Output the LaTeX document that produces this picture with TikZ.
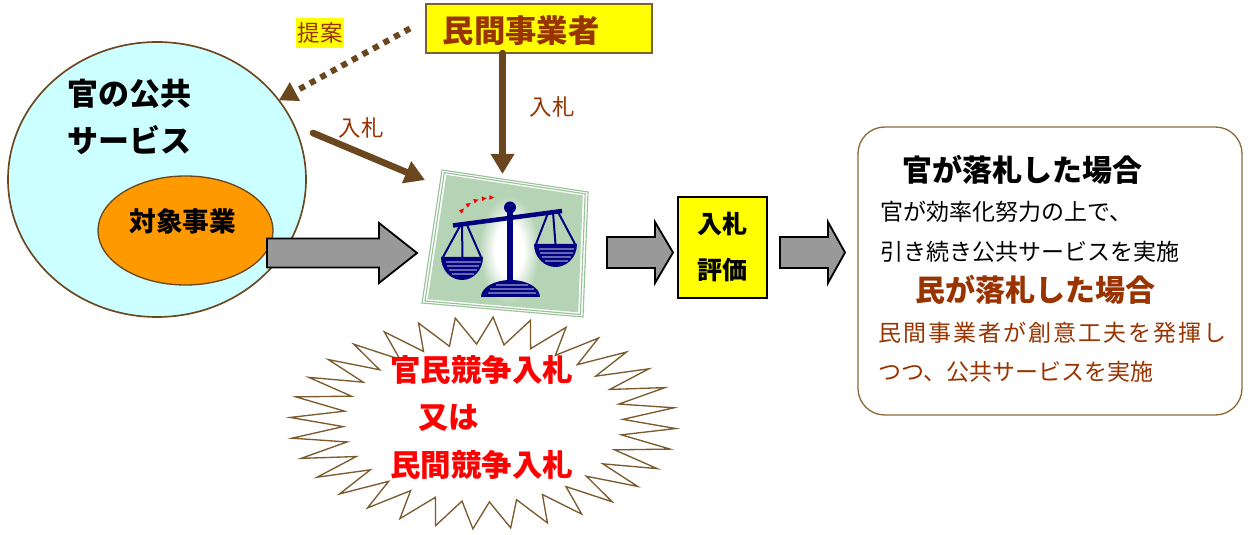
\documentclass[tikz,border=0pt]{standalone}
\usepackage{fontspec}
\setmainfont{Noto Sans CJK JP}
\usetikzlibrary{arrows.meta,calc,shapes.geometric}

\definecolor{arrowbrown}{HTML}{6B4720}
\definecolor{textbrown}{HTML}{993300}
\definecolor{circleline}{HTML}{6B4720}
\definecolor{cyanfill}{HTML}{CCFFFF}
\definecolor{orangefill}{HTML}{FF9900}
\definecolor{arrowgray}{HTML}{999999}
\definecolor{boxyellow}{HTML}{FFFF00}
\definecolor{boxline}{HTML}{806030}
\definecolor{resultline}{HTML}{8B6A3A}
\definecolor{starline}{HTML}{7B5A2E}
\definecolor{alertred}{HTML}{FF0000}
\definecolor{scalenavy}{HTML}{000080}
\definecolor{framefill}{HTML}{B5D4B5}
\definecolor{frameline}{HTML}{9CC49C}
\definecolor{stripe}{HTML}{6666B0}

% soft white glow behind the balance
\pgfdeclareradialshading{scaleglow}{\pgfpoint{0bp}{0bp}}{%
  color(0bp)=(white); color(12bp)=(white); color(25bp)=(framefill); color(50bp)=(framefill)}

\newcommand\fsz[1]{\fontsize{#1}{#1}\selectfont}
% block arrow: start x, head base x, tip x, centre y, half body, half head
\newcommand\blockarrow[6]{%
  \draw[grayblock] (#1,#4-#5) -- (#2,#4-#5) -- (#2,#4-#6) -- (#3,#4)
    -- (#2,#4+#6) -- (#2,#4+#5) -- (#1,#4+#5) -- cycle;}

\begin{document}
\begin{tikzpicture}[x=0.6pt,y=-0.6pt,
  txt/.style={inner sep=0pt, outer sep=0pt},
  bidarrow/.style={draw=arrowbrown, line width=4pt, line cap=round,
    -{Triangle[length=12pt,width=13.5pt]}},
  proparrow/.style={draw=arrowbrown, line width=3.6pt,
    dash pattern=on 3.6pt off 3.6pt, -{Triangle[length=11pt,width=12pt]}},
  grayblock/.style={fill=arrowgray, draw=black, line width=1.1pt, line join=miter},
  navyline/.style={draw=scalenavy, line width=1.2pt},
  stripeline/.style={draw=stripe, line width=0.7pt},
  ]
\useasboundingbox (0,0) rectangle (1250,535);

% ---- public service circle and target project
\node[ellipse, draw=circleline, line width=1pt, fill=cyanfill,
  minimum width=178.8pt, minimum height=165pt, inner sep=0pt, outer sep=0pt]
  (service) at (157,179.5) {};
\node[txt, anchor=west, font=\bfseries\fsz{18.6}] (svc1) at (68,94) {官の公共};
\node[txt, anchor=west, font=\bfseries\fsz{18.6}] (svc2) at (68,140) {サービス};
\node[ellipse, draw=circleline, line width=0.8pt, fill=orangefill,
  minimum width=105pt, minimum height=65.4pt, inner sep=0pt, outer sep=0pt]
  (target) at (185.5,230.5) {};
\node[txt, font=\bfseries\fsz{16}] (targettext) at (183,221) {対象事業};

% ---- starburst
\draw[starline, line width=0.8pt, fill=white]
  plot[samples at={0,...,63}, variable=\i]
  ({483+(mod(\i,2)==0 ? 193 : 140)*cos(\i*5.625+3)},
   {423+(mod(\i,2)==0 ? 106 : 79)*sin(\i*5.625+3)}) -- cycle;
\node[txt, anchor=west, text=alertred, font=\bfseries\fsz{18.3}] (kanmin) at (390,369.5) {官民競争入札};
\node[txt, anchor=west, text=alertred, font=\bfseries\fsz{18.3}] (mataha) at (418,418) {又は};
\node[txt, anchor=west, text=alertred, font=\bfseries\fsz{18.3}] (minmin) at (390,465) {民間競争入札};

% ---- balance picture
\coordinate (fc) at (508.5,245.5);
\coordinate (f1) at (442,170);
\coordinate (f2) at (588,192);
\coordinate (f3) at (583,317);
\coordinate (f4) at (422,303);
\filldraw[fill=white, draw=frameline, line width=0.7pt] (f1) -- (f2) -- (f3) -- (f4) -- cycle;
\draw[frameline, line width=0.7pt] ($(fc)!0.965!(f1)$) -- ($(fc)!0.965!(f2)$)
  -- ($(fc)!0.965!(f3)$) -- ($(fc)!0.965!(f4)$) -- cycle;
\fill[framefill] ($(fc)!0.935!(f1)$) -- ($(fc)!0.935!(f2)$)
  -- ($(fc)!0.935!(f3)$) -- ($(fc)!0.935!(f4)$) -- cycle;
\shade[shading=scaleglow] (509,250) ellipse [x radius=30, y radius=54];
% post, knob and beam
\draw[scalenavy, line width=3.6pt] (510,207) -- (510,286);
\fill[scalenavy] (510,207.5) circle [radius=6];
\draw[scalenavy, line width=2.7pt] (453,225.5) -- (562,211);
% left pan
\draw[navyline] (443,257) -- (460,226);
\draw[navyline] (462.5,257) -- (462,225.5);
\draw[navyline] (481,257) -- (467,225);
\fill[scalenavy] (441,257) arc [start angle=180, end angle=0, x radius=21, y radius=23] -- cycle;
\foreach \d in {5,9,13,17} {
  \draw[stripeline] ({462-21*sqrt(1-(\d/23)^2)+4},257+\d) -- ({462+21*sqrt(1-(\d/23)^2)-2},257+\d);
}
% right pan
\draw[navyline] (536,244) -- (548,213);
\draw[navyline] (555.5,244) -- (553,212.5);
\draw[navyline] (575,244) -- (558,212);
\fill[scalenavy] (534,244) arc [start angle=180, end angle=0, x radius=21.5, y radius=23] -- cycle;
\foreach \d in {5,9,13,17} {
  \draw[stripeline] ({555.5-21.5*sqrt(1-(\d/23)^2)+4},244+\d) -- ({555.5+21.5*sqrt(1-(\d/23)^2)-2},244+\d);
}
% foot
\fill[scalenavy] (481,297) arc [start angle=180, end angle=360, x radius=29.5, y radius=17] -- cycle;
\foreach \d in {4,8,12} {
  \draw[stripeline] ({510.5-29.5*sqrt(1-(\d/17)^2)+6},297-\d) -- ({510.5+29.5*sqrt(1-(\d/17)^2)-3},297-\d);
}
% red motion marks
\foreach \x/\y/\a in {462/210.5/45, 468.5/204.5/32, 476/200.5/18, 484/198.5/8, 491.5/197.5/0} {
  \fill[red, shift={(\x,\y)}, rotate=\a] (2.8,0) -- (-2.2,2.3) -- (-2.2,-2.3) -- cycle;
}

% ---- private operator box and bid arrows
\node[draw=boxline, line width=0.9pt, fill=boxyellow, minimum width=135.6pt,
  minimum height=29.4pt, inner sep=0pt, outer sep=0pt] (minbox) at (539,28.5) {};
\node[txt, text=textbrown, font=\bfseries\fsz{18.8}] (minkan) at (521,31) {民間事業者};
\node[txt, fill=boxyellow, text=textbrown, font=\fsz{13.5}, minimum width=28.8pt,
  minimum height=18pt] (teian) at (320,33) {提案};

\coordinate (bidtop) at (502.5,174);
\draw[bidarrow] (minbox.south -| bidtop) -- (bidtop);
\coordinate (bidstart) at (313,133);
\coordinate (bidtip) at (425,180);
\draw[bidarrow] (bidstart) -- (bidtip);
\draw[proparrow] ([xshift=-9.6pt]minbox.west) -- (service.33);
\node[txt, text=textbrown, font=\fsz{13.5}] (bid1) at (552,107) {入札};
\node[txt, text=textbrown, font=\fsz{13.5}] (bid2) at (361,128) {入札};

% ---- flow arrows and evaluation
\blockarrow{267}{379}{417}{253}{14.5}{30}
\blockarrow{607}{655}{673}{252.5}{15.5}{30.5}
\blockarrow{780}{828}{845}{252.5}{15.5}{30.5}
\node[draw=black, line width=0.8pt, fill=boxyellow, minimum width=53.4pt,
  minimum height=60.6pt, inner sep=0pt, align=center,
  font=\bfseries\fsz{15}, execute at begin node={\setlength{\baselineskip}{27.6pt}}]
  (hyoka) at (722.5,247.5) {入札\\評価};

% ---- outcome box
\node[draw=resultline, line width=0.8pt, fill=white, rounded corners=16pt,
  minimum width=230.4pt, minimum height=172.8pt, inner sep=0pt] (result) at (1050,271) {};
\node[txt, anchor=west, font=\bfseries\fsz{18}] (kanwin) at (902,170) {官が落札した場合};
\node[txt, anchor=west, font=\fsz{13.8}] (kanwin1) at (880,212) {官が効率化努力の上で、};
\node[txt, anchor=west, font=\fsz{13.8}] (kanwin2) at (880,252) {引き続き公共サービスを実施};
\node[txt, anchor=west, text=textbrown, font=\bfseries\fsz{18}] (minwin) at (915,290) {民が落札した場合};
\node[txt, anchor=west, text=textbrown, font={\addfontfeatures{LetterSpace=9}\fsz{13.8}}] (minwin1) at (878,333) {民間事業者が創意工夫を発揮し};
\node[txt, anchor=west, text=textbrown, font=\fsz{13.8}] (minwin2) at (878,372) {つつ、公共サービスを実施};
\end{tikzpicture}
\end{document}
